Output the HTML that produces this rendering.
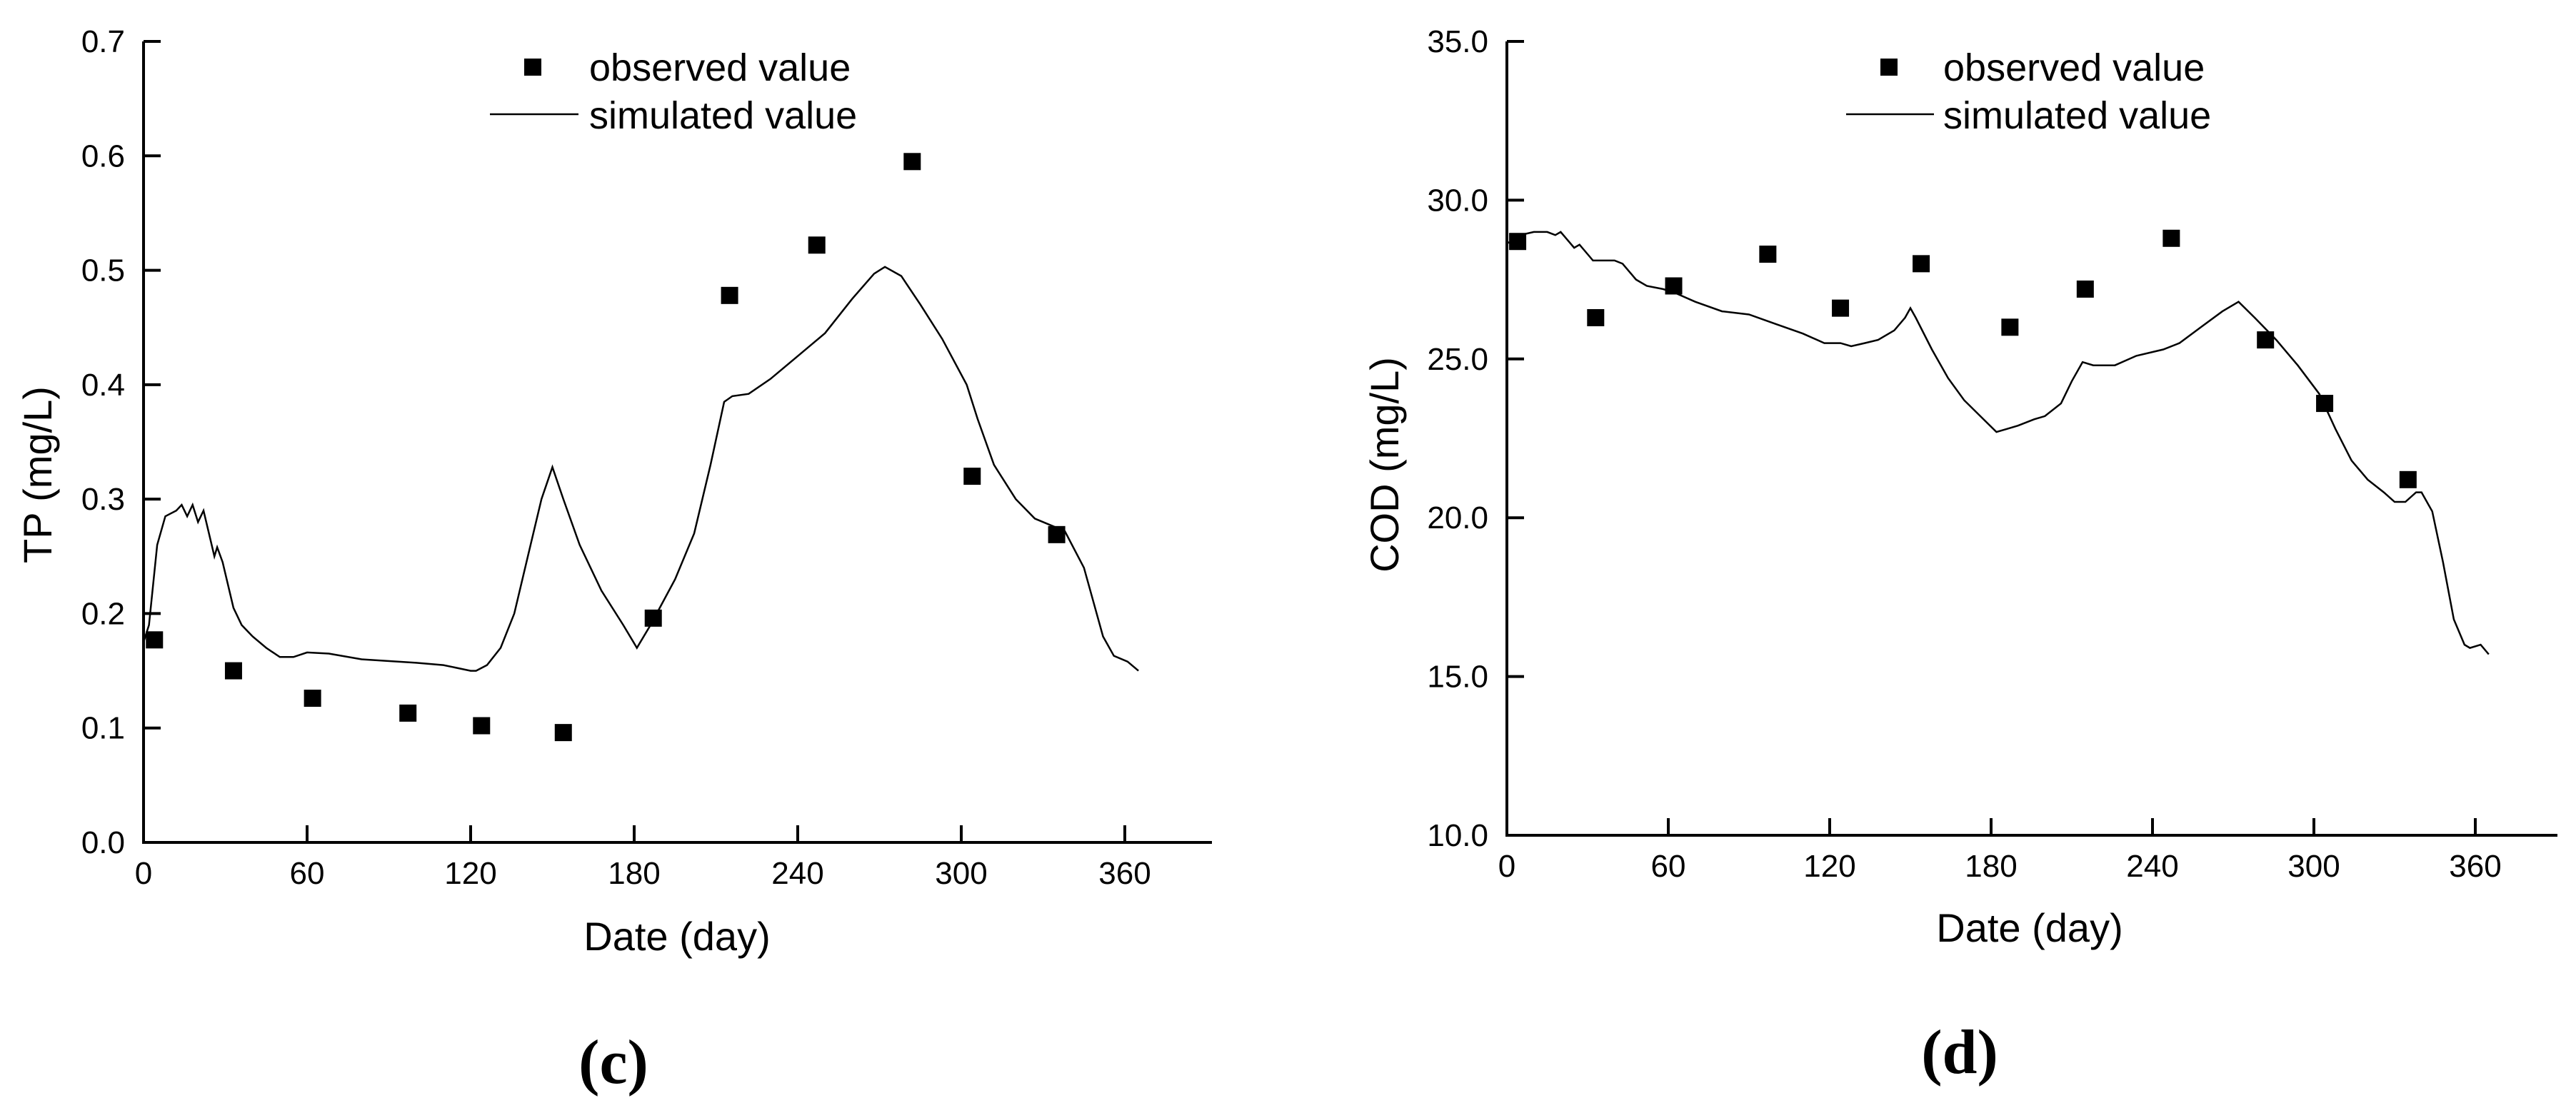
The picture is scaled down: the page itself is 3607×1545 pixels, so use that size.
<!DOCTYPE html>
<html><head><meta charset="utf-8"><style>
html,body{margin:0;padding:0;background:#fff;}
svg{display:block;font-family:"Liberation Sans",Arial,sans-serif;}
</style></head><body>
<svg id="s" width="3607" height="1545" viewBox="0 0 3607 1545" xmlns="http://www.w3.org/2000/svg"></svg>
<script>
const xTicks = [0,60,120,180,240,300,360];
const tpTicks = [0,0.1,0.2,0.3,0.4,0.5,0.6,0.7];
const codTicks = [10,15,20,25,30,35];
const tpObsDays = [4,33,62,97,124,154,187,215,247,282,304,335];
const tpObsVals = [0.177,0.15,0.126,0.113,0.102,0.096,0.196,0.478,0.522,0.595,0.32,0.269];
const tpSimDays = [0,2,5,8,12,14,16,18,20,22,24,26,27,29,33,36,40,45,50,55,60,68,80,100,110,120,122,126,131,136,141,146,150,154,160,168,176,181,186,195,202,208,213,216,222,230,240,250,260,268,272,278,285,293,302,306,312,320,327,335,338,345,352,356,361,365];
const tpSimVals = [0.175,0.19,0.26,0.285,0.29,0.295,0.285,0.295,0.28,0.29,0.27,0.25,0.258,0.245,0.205,0.19,0.18,0.17,0.162,0.162,0.166,0.165,0.16,0.157,0.155,0.15,0.15,0.155,0.17,0.2,0.25,0.3,0.328,0.3,0.26,0.22,0.19,0.17,0.19,0.23,0.27,0.33,0.385,0.39,0.392,0.405,0.425,0.445,0.475,0.497,0.503,0.495,0.47,0.44,0.4,0.37,0.33,0.3,0.283,0.275,0.272,0.24,0.18,0.163,0.158,0.15];
const codObsDays = [4,33,62,97,124,154,187,215,247,282,304,335];
const codObsVals = [28.7,26.3,27.3,28.3,26.6,28.0,26.0,27.2,28.8,25.6,23.6,21.2];
const codSimDays = [0,2,5,10,15,18,20,22,25,27,30,32,40,43,48,52,58,62,70,80,90,100,110,118,124,128,133,138,144,148,150,152,158,164,170,176,182,186,190,196,200,206,210,214,218,226,234,244,250,258,266,272,278,286,294,302,308,314,320,326,330,334,338,340,344,348,352,356,358,362,365];
const codSimVals = [28.7,28.6,28.9,29.0,29.0,28.9,29.0,28.8,28.5,28.6,28.3,28.1,28.1,28.0,27.5,27.3,27.2,27.1,26.8,26.5,26.4,26.1,25.8,25.5,25.5,25.4,25.5,25.6,25.9,26.3,26.6,26.3,25.3,24.4,23.7,23.2,22.7,22.8,22.9,23.1,23.2,23.6,24.3,24.9,24.8,24.8,25.1,25.3,25.5,26.0,26.5,26.8,26.3,25.6,24.8,23.9,22.8,21.8,21.2,20.8,20.5,20.5,20.8,20.8,20.2,18.6,16.8,16.0,15.9,16.0,15.7];

const NS='http://www.w3.org/2000/svg';
const svg=document.getElementById('s');
function mk(tag,attrs,parent,text){const e=document.createElementNS(NS,tag);for(const k in attrs)e.setAttribute(k,attrs[k]);if(text!==undefined)e.textContent=text;(parent||svg).appendChild(e);return e;}

function panel(cfg){
  const g=mk('g',{});
  
  
  const X=d=>cfg.x0+d*cfg.xs;
  const Y=v=>cfg.y0-(v-cfg.vmin)*(cfg.y0-cfg.ytop)/(cfg.vmax-cfg.vmin);
  const ax=mk('path',{d:`M${cfg.x0} ${cfg.ytop} V${cfg.y0} H${cfg.xend}`,stroke:'#000','stroke-width':4,fill:'none'},g);
  
  
  xTicks.forEach(t=>{
    if(t>0){const tk=mk('line',{x1:X(t),x2:X(t),y1:cfg.y0,y2:cfg.y0-24,stroke:'#000','stroke-width':4},g);
    
    }
    const l=mk('text',{x:X(t),y:cfg.xlabY,'font-size':44,'text-anchor':'middle'},g,String(t));
    
    
  });
  cfg.yTicks.forEach(t=>{
    const tk=mk('line',{x1:cfg.x0,x2:cfg.x0+24,y1:Y(t),y2:Y(t),stroke:'#000','stroke-width':4},g);
    
    
    const l=mk('text',{x:cfg.x0-26,y:Y(t)+15,'font-size':44,'text-anchor':'end'},g,t.toFixed(1));
    
    
  });
  const pts=cfg.simD.map((d,i)=>`${X(d).toFixed(1)},${Y(cfg.simV[i]).toFixed(1)}`).join(' ');
  const pl=mk('polyline',{points:pts,fill:'none',stroke:'#000','stroke-width':2.5},g);
  
  
  cfg.obsD.forEach((d,i)=>{
    const r=mk('rect',{x:X(d)-12,y:Y(cfg.obsV[i])-12,width:24,height:24,fill:'#000'},g);
    
    
  });
  const lg=mk('g',{},g);
  
  
  mk('rect',{x:cfg.legSq-12,y:82,width:24,height:24,fill:'#000'},lg);
  mk('text',{x:cfg.legTx,y:113,'font-size':54},lg,'observed value');
  mk('line',{x1:cfg.legL1,x2:cfg.legL2,y1:160,y2:160,stroke:'#000','stroke-width':2.5},lg);
  mk('text',{x:cfg.legTx,y:180,'font-size':54},lg,'simulated value');
  const xt=mk('text',{x:cfg.xtX,y:cfg.xtY,'font-size':56,'text-anchor':'middle'},g,'Date (day)');
  
  
  const yt=mk('text',{x:0,y:0,'font-size':56,'text-anchor':'middle','xml:space':'preserve',transform:`translate(${cfg.ytX},${cfg.ytY}) rotate(-90)`},g,cfg.ytitle);
  
  
  const pt=mk('text',{x:cfg.pX,y:cfg.pY,'font-size':88,'font-weight':'bold','text-anchor':'middle','font-family':'"Liberation Serif",serif'},g,cfg.plabel);
  
  
}

panel({name:'tp-chart',x0:201,xs:229/60,xend:1697,y0:1180,ytop:58,vmin:0,vmax:0.7,yTicks:tpTicks,xlabY:1238,
  simD:tpSimDays,simV:tpSimVals,obsD:tpObsDays,obsV:tpObsVals,legSq:746,legTx:825,legL1:686,legL2:810,
  xtX:948,xtY:1331,ytX:72,ytY:665,ytitle:'TP  (mg/L)',pX:859,pY:1517,plabel:'(c)'});
panel({name:'cod-chart',x0:2110,xs:226/60,xend:3581,y0:1170,ytop:58,vmin:10,vmax:35,yTicks:codTicks,xlabY:1228,
  simD:codSimDays,simV:codSimVals,obsD:codObsDays,obsV:codObsVals,legSq:2645,legTx:2721,legL1:2585,legL2:2708,
  xtX:2842,xtY:1319,ytX:1958,ytY:651,ytitle:'COD (mg/L)',pX:2744,pY:1503,plabel:'(d)'});
</script>
</body></html>
